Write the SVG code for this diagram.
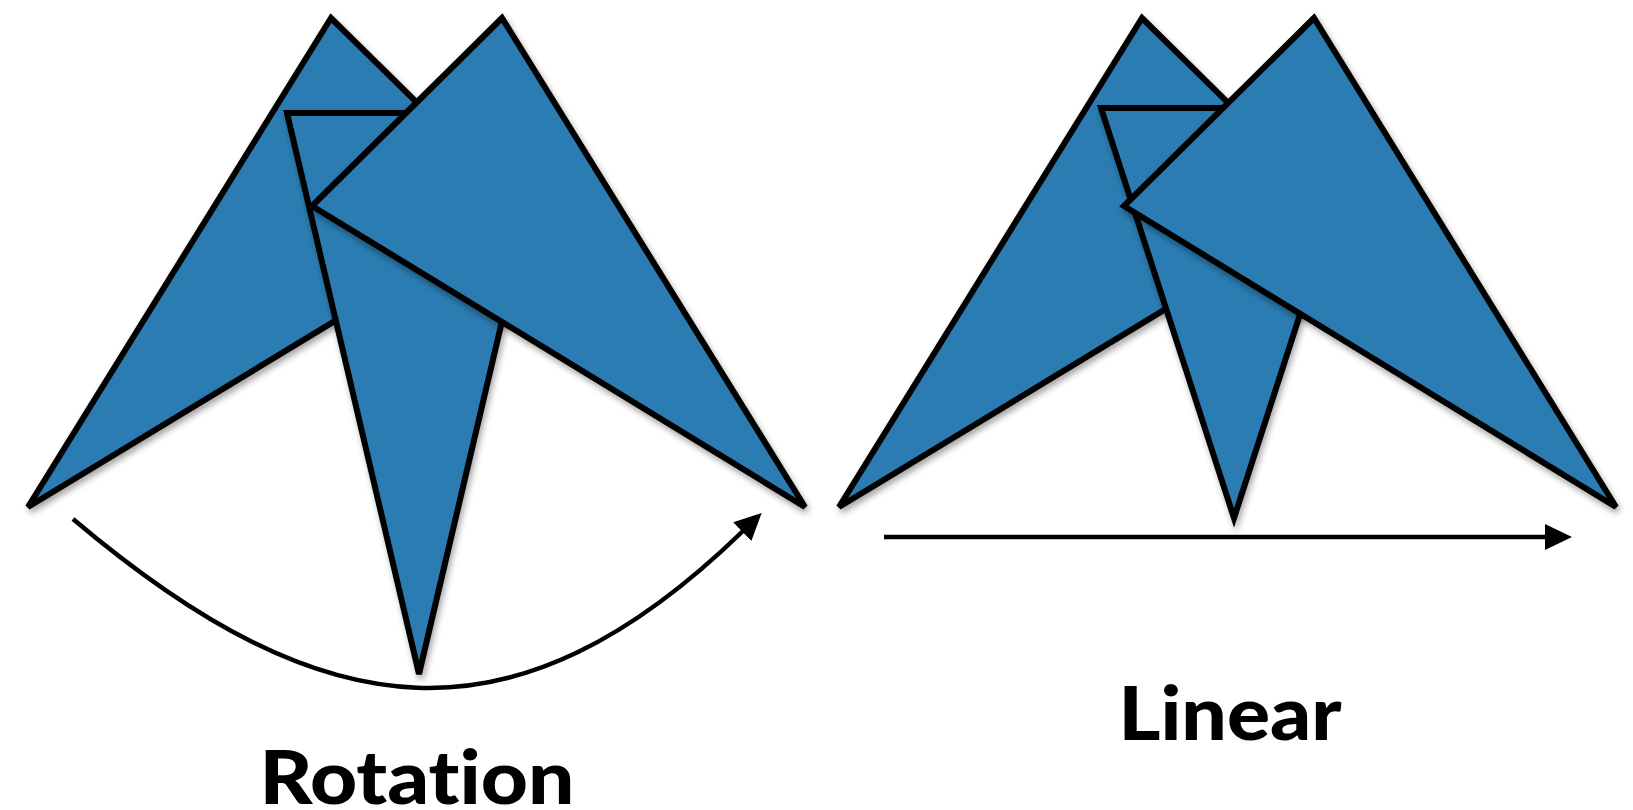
<svg xmlns="http://www.w3.org/2000/svg" width="1633" height="810" viewBox="0 0 1633 810">
  <style>
    .tri { fill: #2c7bb2; stroke: #000; stroke-width: 6; stroke-linejoin: miter; stroke-miterlimit: 4; filter: url(#shadow); }
    .conn { fill: none; stroke: #000; stroke-width: 4.5; }
    .label { font-family: Lato, "Liberation Sans", sans-serif; font-weight: 900; font-size: 75px; fill: #000; text-anchor: middle; font-variant-ligatures: none; }
  </style>
  <defs>
    <filter id="shadow" x="-10%" y="-10%" width="130%" height="130%">
      <feDropShadow dx="2" dy="4" stdDeviation="3" flood-color="#000" flood-opacity="0.35"/>
    </filter>
    <marker id="arrow" markerUnits="userSpaceOnUse" markerWidth="27" markerHeight="26" viewBox="0 0 27 26" refX="1" refY="13" orient="auto">
      <path d="M0,0 L27,13 L0,26 Z" fill="#000"/>
    </marker>
  </defs>
  <rect width="1633" height="810" fill="#fff"/>

  <!-- Rotation -->
  <g id="rot-tri-left"><polygon class="tri" points="331,18 28,507 523,207"/></g>
  <g id="rot-tri-mid"><polygon class="tri" points="287,113 551,113 419,674"/></g>
  <g id="rot-tri-right"><polygon class="tri" points="502,18 312,206 805,507"/></g>

  <!-- Linear -->
  <g id="lin-tri-left"><polygon class="tri" points="1142,18 839,507 1334,207"/></g>
  <g id="lin-tri-mid"><polygon class="tri" points="1101,108 1367,108 1234,518"/></g>
  <g id="lin-tri-right"><polygon class="tri" points="1314,18 1124,206 1616,507"/></g>

  <g id="connectors">
    <path class="conn" d="M73,519 C325,732 515,752 743,531" marker-end="url(#arrow)"/>
    <path class="conn" d="M884,537 L1546,537" marker-end="url(#arrow)"/>
  </g>

  <g id="labels">
    <text class="label" x="417" y="804" textLength="315" lengthAdjust="spacingAndGlyphs">Rotation</text>
    <text class="label" x="1230" y="740" textLength="223" lengthAdjust="spacingAndGlyphs">Linear</text>
  </g>
</svg>
